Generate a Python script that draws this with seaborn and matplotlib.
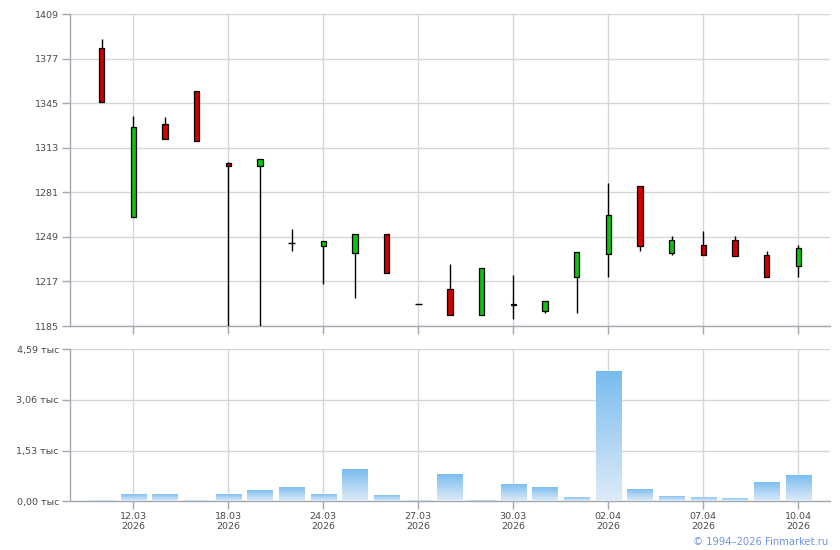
import numpy as np
import pandas as pd
import matplotlib
matplotlib.use("Agg")
import matplotlib.pyplot as plt
import seaborn as sns

# ---- data ----
opens  = [1384.4, 1263.5, 1329.8, 1353.7, 1301.8, 1300.1, 1244.4, 1242.7, 1237.6, 1250.8,
          1200.6, 1211.3, 1192.7, 1200.6, 1195.6, 1220.4, 1236.5, 1285.3, 1237.6, 1242.9,
          1246.7, 1235.8, 1227.9]
highs  = [1391.1, 1335.8, 1334.8, 1353.7, 1302.5, 1304.7, 1254.4, 1245.8, 1250.8, 1250.8,
          1200.6, 1229.3, 1226.4, 1221.4, 1202.7, 1237.9, 1287.7, 1285.3, 1249.6, 1253.2,
          1249.6, 1238.8, 1243.2]
lows   = [1346.1, 1263.5, 1319.5, 1318.0, 1170.0, 1170.0, 1239.1, 1215.4, 1205.3, 1223.3,
          1200.6, 1192.7, 1192.7, 1189.8, 1194.6, 1194.6, 1220.4, 1239.1, 1236.2, 1236.2,
          1235.5, 1220.0, 1220.4]
closes = [1346.1, 1327.6, 1319.5, 1318.0, 1300.1, 1304.7, 1244.4, 1245.8, 1250.8, 1223.3,
          1200.6, 1192.7, 1226.4, 1200.0, 1202.7, 1237.9, 1264.5, 1242.7, 1246.7, 1236.2,
          1235.5, 1220.0, 1240.8]
volumes = [40, 220, 220, 40, 220, 340, 430, 220, 980, 190,
           40, 830, 30, 520, 430, 130, 3940, 370, 160, 130,
           100, 580, 795]
tick_pos = [1, 4, 7, 10, 13, 16, 19, 22]
tick_labels = ["12.03\n2026", "18.03\n2026", "24.03\n2026", "27.03\n2026",
               "30.03\n2026", "02.04\n2026", "07.04\n2026", "10.04\n2026"]
price_ticks = [1185, 1217, 1249, 1281, 1313, 1345, 1377, 1409]
vol_ticks = [0, 1530, 3060, 4590]
vol_tick_labels = ["0,00 тыс", "1,53 тыс", "3,06 тыс", "4,59 тыс"]

df = pd.DataFrame({"i": np.arange(len(opens)), "open": opens, "high": highs,
                   "low": lows, "close": closes, "volume": volumes})

sns.set_theme(style="white")
plt.rcParams["font.family"] = ["DejaVu Sans"]

GRID = "#d3d7dc"
SPINE = "#a3a7b0"
TXT = "#4a4a4a"

fig = plt.figure(figsize=(8.4, 5.5), dpi=100)
ax1 = fig.add_axes([70/840, 1-326/550, 760/840, 312/550])
ax2 = fig.add_axes([70/840, 1-501.3/550, 760/840, 152/550])

# ---- volume bars (seaborn) ----
sns.barplot(data=df, x="i", y="volume", ax=ax2, width=0.79, color="#7bbcf0",
            saturation=1, zorder=3, errorbar=None)
top_c = np.array([0x78, 0xbb, 0xef]) / 255
bot_c = np.array([0xde, 0xeb, 0xf8]) / 255
grad = np.linspace(0, 1, 256)[:, None]
img = top_c[None, None, :] * (1 - grad[..., None]) + bot_c[None, None, :] * grad[..., None]
for p in list(ax2.patches):
    x0, y0 = p.get_x(), p.get_y()
    w, h = p.get_width(), p.get_height()
    if h <= 0:
        continue
    im = ax2.imshow(img, extent=[x0, x0 + w, y0, y0 + h], aspect="auto",
                    zorder=3.5, interpolation="bilinear")
    im.set_clip_path(p)
    p.set_edgecolor("none")

# ---- candles ----
up = df["close"] >= df["open"]
ax1.vlines(df["i"], df["low"], df["high"], color="black", lw=1, zorder=3)
bw = 0.17
for _, r in df.iterrows():
    lo = min(r["open"], r["close"])
    hgt = abs(r["close"] - r["open"])
    col = "#10c010" if r["close"] > r["open"] else "#cc0000"
    if hgt < 0.01:
        ax1.hlines(r["open"], r["i"] - 0.12, r["i"] + 0.12, color="black", lw=1, zorder=4)
    else:
        ax1.bar(r["i"], hgt, bottom=lo, width=bw, color=col, edgecolor="black",
                linewidth=0.9, zorder=4)

for ax in (ax1, ax2):
    ax.set_xlim(-1, 23)
    ax.set_xticks(tick_pos)
    ax.grid(True, color=GRID, lw=1, zorder=0)
    ax.set_axisbelow(True)
    for s in ("top", "right"):
        ax.spines[s].set_visible(False)
    for s in ("left", "bottom"):
        ax.spines[s].set_color(SPINE)
        ax.spines[s].set_linewidth(1)
    ax.tick_params(axis="both", length=6, width=1, color=SPINE, labelcolor=TXT,
                   labelsize=6.8, pad=2, direction="out", left=True, bottom=True)
    ax.set_xlabel("")
    ax.set_ylabel("")

ax1.set_ylim(1185, 1409)
ax1.set_yticks(price_ticks)
ax1.set_yticklabels([str(v) for v in price_ticks])
ax1.set_xticklabels([])

ax2.set_ylim(0, 4590)
ax2.set_yticks(vol_ticks)
ax2.set_yticklabels(vol_tick_labels)
ax2.set_xticklabels(tick_labels, linespacing=1.15)

fig.text(828/840, 1-542/550, "© 1994–2026 Finmarket.ru", ha="right", va="center",
         color="#6f95e6", fontsize=7.2)

fig.savefig("out.png", dpi=100)
